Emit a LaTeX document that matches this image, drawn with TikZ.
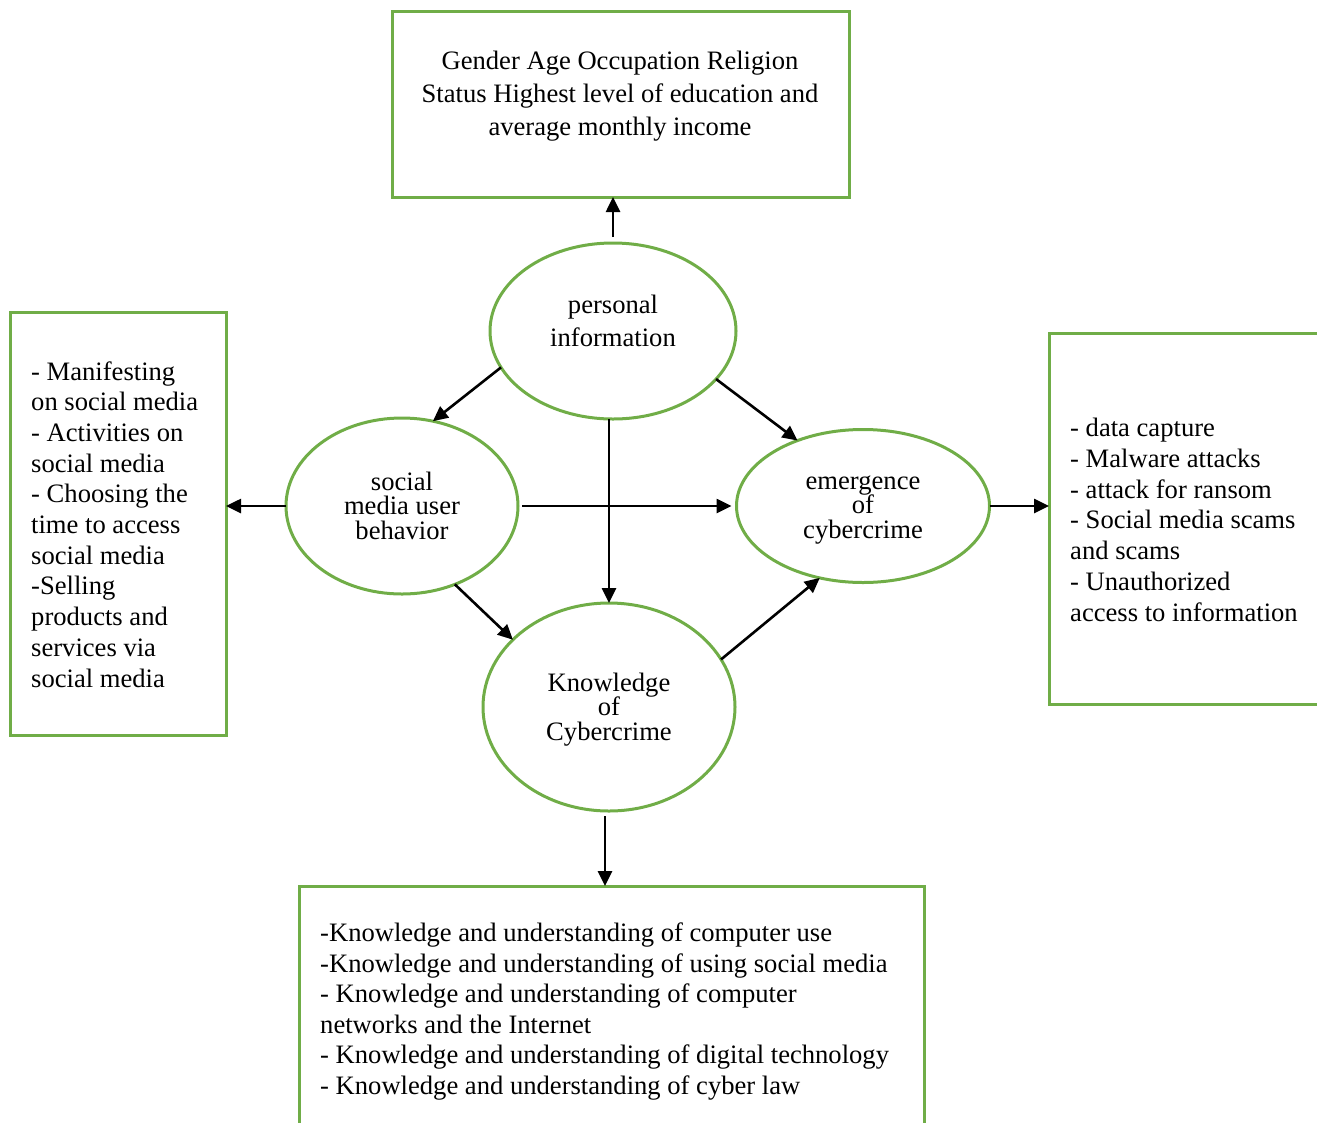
\documentclass[tikz,border=0pt]{standalone}
\usepackage{fontspec}
\setmainfont{Liberation Serif}
\usetikzlibrary{shapes.geometric,arrows.meta}
\definecolor{gr}{HTML}{70AD47}
\begin{document}
\begin{tikzpicture}[x=1pt,y=-1pt,
  box/.style={draw=gr,line width=3pt,rectangle,inner sep=0pt,outer sep=0pt,anchor=north west},
  ell/.style={draw=gr,line width=3pt,ellipse,inner sep=0pt,outer sep=0pt},
  txt/.style={inner sep=0pt,font=\fontsize{26.6}{30.7}\selectfont},
  ctxt/.style={txt,align=center,anchor=base,font=\fontsize{26.6}{24.5}\selectfont},
  ltxt/.style={txt,align=left,anchor=base west},
  arr/.style={line width=2.6pt,-{Triangle[length=15pt,width=14pt]}}]
\useasboundingbox (0,0) rectangle (1317,1122);
\clip (0,0) rectangle (1317,1122);
% boxes
\node[box,minimum width=457pt,minimum height=186pt] (tb) at (392,11) {};
\node[box,minimum width=216pt,minimum height=423pt] (lb) at (10,312) {};
\node[box,minimum width=290pt,minimum height=371pt] (rb) at (1049,333) {};
\node[box,minimum width=625pt,minimum height=260pt] (bb) at (299,886) {};
% box texts
\node[txt,align=center,anchor=base,font=\fontsize{26.6}{33}\selectfont] (tbt) at (620,135)
  {Gender Age Occupation Religion\\Status Highest level of education and\\average monthly income};
\node[ltxt] (lbt) at (31,687)
  {- Manifesting\\on social media\\- Activities on\\social media\\- Choosing the\\time to access\\social media\\-Selling\\products and\\services via\\social media};
\node[ltxt] (rbt) at (1070,621)
  {- data capture\\- Malware attacks\\- attack for ransom\\- Social media scams\\and scams\\- Unauthorized\\access to information};
\node[ltxt,font=\fontsize{26.6}{30.5}\selectfont] (bbt) at (320,1094)
  {-Knowledge and understanding of computer use\\-Knowledge and understanding of using social media\\- Knowledge and understanding of computer\\networks and the Internet\\- Knowledge and understanding of digital technology\\- Knowledge and understanding of cyber law};
% ellipses
\node[ell,minimum width=246pt,minimum height=176pt] (pi) at (613,331) {};
\node[ell,minimum width=232pt,minimum height=176pt] (smb) at (402,506) {};
\node[ell,minimum width=253pt,minimum height=153pt] (em) at (863,506) {};
\node[ell,minimum width=252pt,minimum height=208pt] (kc) at (609,707) {};
\node[ctxt,font=\fontsize{26.6}{33}\selectfont] (pit) at (613,346) {personal\\information};
\node[ctxt] (smbt) at (402,539) {social\\media user\\behavior};
\node[ctxt] (emt) at (863,538) {emergence\\of\\cybercrime};
\node[ctxt] (kct) at (609,740) {Knowledge\\of\\Cybercrime};
% arrows
\draw[arr,shorten <=6pt] (pi.north) -- (pi.north |- tb.south);
\draw[arr] (pi.198) -- (smb.70);
\draw[arr] (pi.-25) -- (em.135);
\draw[arr] (kc.north |- pi.south) -- (kc.north);
\draw[arr,shorten <=4pt,shorten >=5pt] (smb.east) -- (em.west);
\draw[arr] (smb.west) -- (smb.west -| lb.east);
\draw[arr] (smb.-56) -- (kc.145);
\draw[arr] (kc.23) -- (em.239);
\draw[arr] (em.east) -- (em.east -| rb.west);
\draw[arr,shorten <=5pt] ([xshift=-4pt]kc.south) -- ([xshift=-4pt]kc.south |- bb.north);
\end{tikzpicture}
\end{document}
